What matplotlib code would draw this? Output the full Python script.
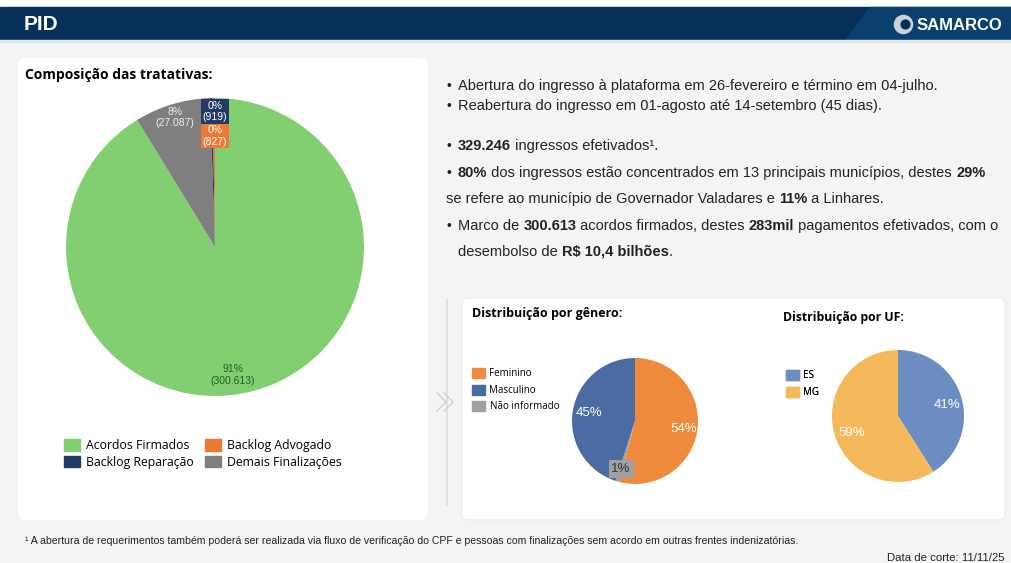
import matplotlib.pyplot as plt
from matplotlib.patches import FancyBboxPatch, Rectangle, Polygon, Patch

plt.rcParams['font.family'] = ['Liberation Sans', 'DejaVu Sans']

# composição das tratativas (clockwise from top)
comp_labels = ["Acordos Firmados", "Demais Finalizações", "Backlog Reparação", "Backlog Advogado"]
comp_values = [300613, 27087, 919, 827]
comp_colors = ["#82cf72", "#7f7f7f", "#233a63", "#ec7a35"]
comp_text = ["91%\n(300.613)", "8%\n(27.087)", "0%\n(919)", "0%\n(827)"]

# distribuição por gênero
gen_labels = ["Feminino", "Não informado", "Masculino"]
gen_values = [54, 1, 45]
gen_colors = ["#ef8a3c", "#a0a0a0", "#4a6ca3"]

# distribuição por UF
uf_labels = ["ES", "MG"]
uf_values = [41, 59]
uf_colors = ["#6b8dc2", "#f5b85a"]

W, H = 1012, 563
fig = plt.figure(figsize=(W / 100, H / 100), dpi=100)
fig.patch.set_facecolor("#f4f4f4")
bg = fig.add_axes([0, 0, 1, 1])
bg.set_xlim(0, W)
bg.set_ylim(H, 0)
bg.axis("off")

# header
bg.add_patch(Rectangle((0, 0), W, 7, color="white", zorder=1))
bg.add_patch(Rectangle((0, 7), W, 33, color="#06305a", zorder=1))
bg.add_patch(Polygon([(870, 7), (W, 7), (W, 40), (845, 40)], color="#0b3f6e", zorder=1))
bg.add_patch(Rectangle((0, 40), W, 2, color="#dfe7ee", zorder=1))
bg.text(24, 25, "PID", color="white", fontsize=15, fontweight="bold", va="center", zorder=3)
bg.scatter([903], [24], s=170, color="#c9d3dc", zorder=3)
bg.scatter([905], [24], s=40, color="#06305a", zorder=4)
bg.text(917, 25, "SAMARCO", color="white", fontsize=12, fontweight="bold", va="center", zorder=3)

# panels
bg.add_patch(FancyBboxPatch((18, 58), 410, 462, boxstyle="round,pad=0,rounding_size=8",
                            fc="white", ec="none", zorder=1))
bg.add_patch(FancyBboxPatch((462, 298), 543, 222, boxstyle="round,pad=0,rounding_size=6",
                            fc="white", ec="#ececec", lw=0.8, zorder=1))
bg.plot([447, 447], [300, 505], color="#dcdcdc", lw=1.2, zorder=2)
for dx in (0, 7):
    bg.plot([437 + dx, 446 + dx, 437 + dx], [393, 402, 411], color="#d0d0d0", lw=1, zorder=2)

bg.text(25, 75, "Composição das tratativas:", fontsize=10, fontweight="bold", va="center",
        family=["Open Sans", "DejaVu Sans"], zorder=3)
bg.text(472, 313, "Distribuição por gênero:", fontsize=9, fontweight="bold", va="center",
        family=["Open Sans", "DejaVu Sans"], zorder=3)
bg.text(783, 318, "Distribuição por UF:", fontsize=8.8, fontweight="bold", va="center",
        family=["Open Sans", "DejaVu Sans"], zorder=3)


def axes_px(cx, cy, r):
    a = fig.add_axes([(cx - r) / W, 1 - (cy + r) / H, 2 * r / W, 2 * r / H])
    return a


def small_legend(handles, x, y):
    leg = bg.legend(handles=handles, loc="upper left", bbox_to_anchor=(x / W, 1 - y / H),
                    bbox_transform=fig.transFigure, frameon=False,
                    prop=dict(family=["Open Sans", "DejaVu Sans"], size=7),
                    handlelength=1.3, handleheight=1.2, handletextpad=0.5,
                    labelspacing=0.55, borderaxespad=0, borderpad=0)
    bg.add_artist(leg)


# main pie
ax1 = axes_px(215, 247, 149)
ax1.pie(comp_values, colors=comp_colors, startangle=90, counterclock=False,
        wedgeprops=dict(linewidth=0))
ax1.set_xlim(-1, 1)
ax1.set_ylim(-1, 1)
ax1.text(0.12, -0.86, comp_text[0], ha="center", va="center", fontsize=7.5, color="#1e5e1e")
ax1.text(-0.27, 0.87, comp_text[1], ha="center", va="center", fontsize=7.5, color="#eeeeee")
ax1.text(0.0, 0.91, comp_text[2], ha="center", va="center", fontsize=7.5, color="white",
         bbox=dict(fc=comp_colors[2], ec="none", pad=1))
ax1.text(0.0, 0.745, comp_text[3], ha="center", va="center", fontsize=7.5, color="white",
         bbox=dict(fc=comp_colors[3], ec="none", pad=1))

order = [0, 2, 3, 1]
handles = [Patch(color=comp_colors[i], label=comp_labels[i]) for i in order]
main_leg = bg.legend(handles=handles, ncol=2, loc="upper left",
                     bbox_to_anchor=(64 / W, 1 - 439 / H), bbox_transform=fig.transFigure,
                     frameon=False, prop=dict(family=["Open Sans", "DejaVu Sans"], size=8.8),
                     handlelength=1.3, handleheight=1.1, handletextpad=0.5, columnspacing=0.9,
                     labelspacing=0.3, borderaxespad=0, borderpad=0)
bg.add_artist(main_leg)

# gender pie
ax2 = axes_px(635, 421, 63)
ax2.pie(gen_values, colors=gen_colors, startangle=90, counterclock=False,
        wedgeprops=dict(linewidth=0))
ax2.set_xlim(-1, 1)
ax2.set_ylim(-1, 1)
ax2.text(0.77, -0.12, "54%", ha="center", va="center", fontsize=9.5, color="white")
ax2.text(-0.73, 0.12, "45%", ha="center", va="center", fontsize=9.5, color="white")
ax2.text(-0.22, -0.76, "1%", ha="center", va="center", fontsize=9.5, color="#333333",
         bbox=dict(fc="#a0a0a0", ec="none", pad=2))
small_legend([Patch(color=gen_colors[i], label=gen_labels[i]) for i in (0, 2, 1)], 472, 368)

# UF pie
ax3 = axes_px(898, 416, 66)
ax3.pie(uf_values, colors=uf_colors, startangle=90, counterclock=False,
        wedgeprops=dict(linewidth=0))
ax3.set_xlim(-1, 1)
ax3.set_ylim(-1, 1)
ax3.text(0.74, 0.17, "41%", ha="center", va="center", fontsize=9.5, color="white")
ax3.text(-0.7, -0.26, "59%", ha="center", va="center", fontsize=9.5, color="white")
small_legend([Patch(color=uf_colors[i], label=uf_labels[i]) for i in range(2)], 786, 370)

# bullet text with bold runs
bullets = [
    (90, True, [("Abertura do ingresso à plataforma em 26-fevereiro e término em 04-julho.", False)]),
    (110, True, [("Reabertura do ingresso em 01-agosto até 14-setembro (45 dias).", False)]),
    (150, True, [("329.246", True), (" ingressos efetivados¹.", False)]),
    (177, True, [("80%", True), (" dos ingressos estão concentrados em 13 principais municípios, destes ", False),
                 ("29%", True)]),
    (203, False, [("se refere ao município de Governador Valadares e ", False), ("11%", True),
                  (" a Linhares.", False)]),
    (230, True, [("Marco de ", False), ("300.613", True), (" acordos firmados, destes ", False),
                 ("283mil", True), (" pagamentos efetivados, com o", False)]),
    (256, False, [("desembolso de ", False), ("R$ 10,4 bilhões", True), (".", False)]),
]
for y, dot, runs in bullets:
    x0 = 458 if (dot or y == 256) else 446
    if dot:
        bg.text(447, y, "•", fontsize=10, va="baseline", color="#222222", zorder=3)
    prev = None
    for s, b in runs:
        kw = dict(fontsize=10.5, color="#222222", fontweight="bold" if b else "normal", zorder=3)
        if prev is None:
            prev = bg.text(x0, y, s, va="baseline", **kw)
        else:
            prev = bg.annotate(s, xy=(1, 0), xycoords=prev, va="bottom", **kw)

bg.text(25, 541, "¹ A abertura de requerimentos também poderá ser realizada via fluxo de verificação do CPF e pessoas com finalizações sem acordo em outras frentes indenizatórias.",
        fontsize=7.6, va="center", color="#222222", zorder=3)
bg.text(887, 558, "Data de corte: 11/11/25", fontsize=8.2, va="center", color="#222222", zorder=3)

fig.savefig("out.png", dpi=100, facecolor=fig.get_facecolor())
